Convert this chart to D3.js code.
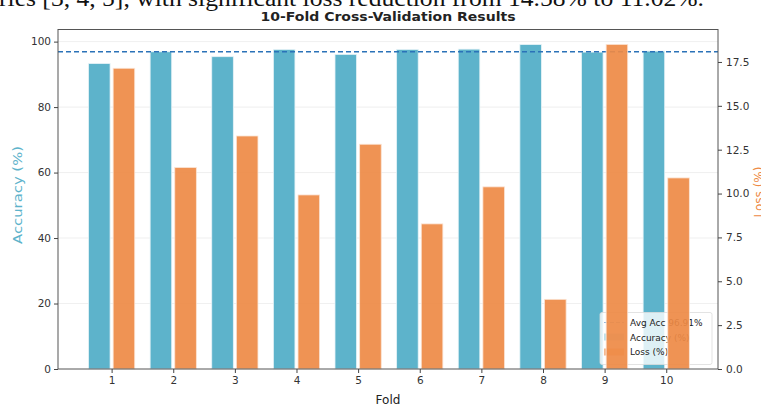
<!DOCTYPE html>
<html>
<head>
<meta charset="utf-8">
<script src="https://cdn.jsdelivr.net/npm/d3@7"></script>
<style>
  body { margin: 0; background: #fff; }
  svg { display: block; font-family: "DejaVu Sans", sans-serif; }
</style>
</head>
<body>
<script>
// data
var folds = [1, 2, 3, 4, 5, 6, 7, 8, 9, 10];
var accuracy = [93.3, 96.9, 95.4, 97.6, 96.1, 97.6, 97.7, 99.1, 96.8, 97.1];
var loss = [17.14, 11.48, 13.28, 9.92, 12.81, 8.27, 10.38, 3.97, 18.5, 10.89];
var avgAcc = 96.91;
var accTicks = [0, 20, 40, 60, 80, 100];
var lossTicks = [0, 2.5, 5, 7.5, 10, 12.5, 15, 17.5];

var width = 761;
var height = 407;
var pLeft = 58;
var pRight = 718;
var pTop = 29.5;
var pBottom = 369;
var accColor = "#5db3cb";
var lossColor = "#ee8a45";

var svg = d3
  .select("body")
  .append("svg")
  .attr("width", width)
  .attr("height", height);

// cut off sentence from the page above the chart
svg
  .append("text")
  .attr("x", -1)
  .attr("y", 6)
  .attr("font-family", "Liberation Serif, serif")
  .attr("font-size", 24)
  .attr("fill", "#111")
  .attr("textLength", 705)
  .attr("lengthAdjust", "spacingAndGlyphs")
  .text("ries [3, 4, 5], with significant loss reduction from 14.58% to 11.02%.");

var xScale = d3.scaleLinear().domain([0.13, 10.84]).range([pLeft, pRight]);
var yAcc = d3.scaleLinear().domain([0, 103.7]).range([pBottom, pTop]);
var yLoss = d3.scaleLinear().domain([0, 19.35]).range([pBottom, pTop]);
var unit = xScale(2) - xScale(1);
var barW = unit * 0.35;

// grid
svg
  .append("g")
  .selectAll("line")
  .data(accTicks.slice(1))
  .enter()
  .append("line")
  .attr("x1", pLeft)
  .attr("x2", pRight)
  .attr("y1", function(d) { return yAcc(d); })
  .attr("y2", function(d) { return yAcc(d); })
  .attr("stroke", "#ebebeb")
  .attr("stroke-width", 0.8);

// accuracy bars
svg
  .append("g")
  .selectAll("rect")
  .data(folds)
  .enter()
  .append("rect")
  .attr("x", function(d) { return xScale(d - 0.2) - barW / 2; })
  .attr("y", function(d, i) { return yAcc(accuracy[i]); })
  .attr("width", barW)
  .attr("height", function(d, i) { return pBottom - yAcc(accuracy[i]); })
  .attr("fill", accColor)
  .attr("stroke", "#e6f3f7")
  .attr("stroke-width", 0.8);

// average line
svg
  .append("line")
  .attr("x1", pLeft)
  .attr("x2", pRight)
  .attr("y1", yAcc(avgAcc))
  .attr("y2", yAcc(avgAcc))
  .attr("stroke", "#2b72b8")
  .attr("stroke-width", 1.4)
  .attr("stroke-dasharray", "5,3");

// legend (sits under the loss bars like in the original)
var leg = svg.append("g").attr("transform", "translate(600,312.5)");
leg
  .append("rect")
  .attr("width", 112)
  .attr("height", 52)
  .attr("rx", 2)
  .attr("fill", "#fff")
  .attr("fill-opacity", 0.8)
  .attr("stroke", "#dcdcdc")
  .attr("stroke-width", 0.8);
leg
  .append("line")
  .attr("x1", 4)
  .attr("x2", 24)
  .attr("y1", 10)
  .attr("y2", 10)
  .attr("stroke", "#2b72b8")
  .attr("stroke-opacity", 0.5)
  .attr("stroke-width", 1.2)
  .attr("stroke-dasharray", "4,2");
leg
  .append("rect")
  .attr("x", 4)
  .attr("y", 21)
  .attr("width", 20)
  .attr("height", 7)
  .attr("fill", accColor)
  .attr("opacity", 0.4);
leg
  .append("rect")
  .attr("x", 4)
  .attr("y", 36)
  .attr("width", 20)
  .attr("height", 7)
  .attr("fill", lossColor)
  .attr("opacity", 0.6);
var legLabels = ["Avg Acc 96.91%", "Accuracy (%)", "Loss (%)"];
leg
  .selectAll("text.lab")
  .data(legLabels)
  .enter()
  .append("text")
  .attr("class", "lab")
  .attr("x", 30)
  .attr("y", function(d, i) { return 13.5 + i * 14.5; })
  .attr("font-size", 9)
  .attr("fill", "#222")
  .text(function(d) { return d; });

// loss bars on the twin axis
svg
  .append("g")
  .selectAll("rect")
  .data(folds)
  .enter()
  .append("rect")
  .attr("x", function(d) { return xScale(d + 0.2) - barW / 2; })
  .attr("y", function(d, i) { return yLoss(loss[i]); })
  .attr("width", barW)
  .attr("height", function(d, i) { return pBottom - yLoss(loss[i]); })
  .attr("fill", lossColor)
  .attr("fill-opacity", 0.92)
  .attr("stroke", "#fbe3d3")
  .attr("stroke-width", 0.8);

// frame
svg
  .append("rect")
  .attr("x", pLeft)
  .attr("y", pTop)
  .attr("width", pRight - pLeft)
  .attr("height", pBottom - pTop)
  .attr("fill", "none")
  .attr("stroke", "#555")
  .attr("stroke-width", 1);

// axes
var xAxis = svg
  .append("g")
  .attr("transform", "translate(0," + pBottom + ")")
  .call(d3.axisBottom(xScale).tickValues(folds).tickSize(4).tickPadding(4));
var accAxis = svg
  .append("g")
  .attr("transform", "translate(" + pLeft + ",0)")
  .call(d3.axisLeft(yAcc).tickValues(accTicks).tickSize(4).tickPadding(3));
var lossAxis = svg
  .append("g")
  .attr("transform", "translate(" + pRight + ",0)")
  .call(
    d3
      .axisRight(yLoss)
      .tickValues(lossTicks)
      .tickFormat(d3.format(".1f"))
      .tickSize(4)
      .tickPadding(4)
  );
[xAxis, accAxis, lossAxis].forEach(function(a) {
  a.select(".domain").remove();
  a.selectAll("line").attr("stroke", "#444");
  a.selectAll("text")
    .attr("font-size", 10.5)
    .attr("fill", "#333")
    .attr("font-family", "DejaVu Sans, sans-serif");
});

// labels
svg
  .append("text")
  .attr("x", 388)
  .attr("y", 21)
  .attr("text-anchor", "middle")
  .attr("font-size", 12.5)
  .attr("font-weight", "bold")
  .attr("fill", "#222")
  .attr("textLength", 255)
  .attr("lengthAdjust", "spacingAndGlyphs")
  .text("10-Fold Cross-Validation Results");
svg
  .append("text")
  .attr("x", 388)
  .attr("y", 404)
  .attr("text-anchor", "middle")
  .attr("font-size", 12)
  .attr("fill", "#222")
  .text("Fold");
svg
  .append("text")
  .attr("transform", "translate(22,195) rotate(-90)")
  .attr("text-anchor", "middle")
  .attr("font-size", 13)
  .attr("fill", accColor)
  .attr("textLength", 98)
  .attr("lengthAdjust", "spacingAndGlyphs")
  .text("Accuracy (%)");
svg
  .append("text")
  .attr("transform", "translate(763,192) rotate(-90)")
  .attr("text-anchor", "middle")
  .attr("font-size", 12)
  .attr("fill", lossColor)
  .text("Loss (%)");
</script>
</body>
</html>
